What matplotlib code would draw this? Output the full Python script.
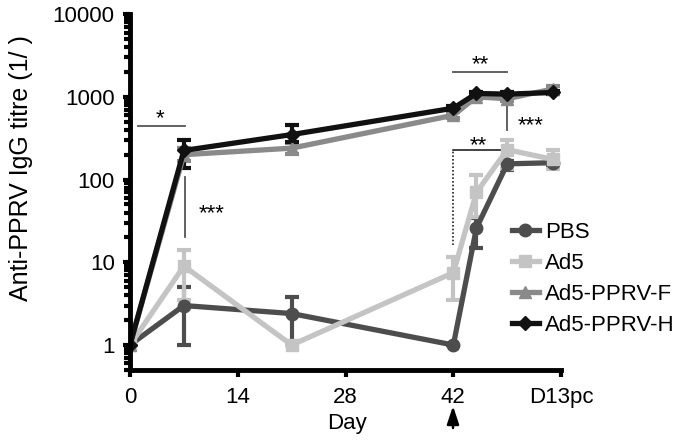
import matplotlib
matplotlib.use("Agg")
import matplotlib.pyplot as plt
from matplotlib.lines import Line2D
from matplotlib.ticker import LogLocator, NullFormatter

plt.rcParams["font.family"] = ["Liberation Sans", "DejaVu Sans"]

# data (titre values, log axis)
days = [0, 7, 21, 42, 45, 49, 55]
groups = ["PBS", "Ad5", "Ad5-PPRV-F", "Ad5-PPRV-H"]

pbs = [1, 3.0, 2.4, 1, 26, 155, 160]
pbs_lo = [1, 1, 1, 1, 15, 130, 148]
pbs_hi = [1, 5, 3.8, 1, 34, 168, 172]

ad5 = [1, 9, 1, 7.5, 70, 230, 175]
ad5_lo = [1, 3.5, 1, 3.5, 35, 135, 135]
ad5_hi = [1, 14, 1, 11.5, 113, 300, 225]

pprv_f = [1, 200, 240, 600, 1000, 950, 1250]
pprv_f_lo = [1, 170, 205, 560, 950, 900, 1150]
pprv_f_hi = [1, 240, 280, 650, 1060, 1000, 1350]

pprv_h = [1, 225, 350, 730, 1100, 1080, 1130]
pprv_h_lo = [1, 140, 285, 690, 1050, 1030, 1080]
pprv_h_hi = [1, 300, 455, 780, 1150, 1130, 1180]

xtick_pos = [0, 14, 28, 42, 56]
xtick_labels = ["0", "14", "28", "42", "D13pc"]

FS = 16

fig = plt.figure(figsize=(6.86, 4.43), dpi=100)
ax = fig.add_axes([0.1895, 0.165, 0.6285, 0.803])

series = [
    (pbs, pbs_lo, pbs_hi, "#4d4d4d", "o", 9),
    (ad5, ad5_lo, ad5_hi, "#c4c4c4", "s", 8),
    (pprv_f, pprv_f_lo, pprv_f_hi, "#8a8a8a", "^", 9),
    (pprv_h, pprv_h_lo, pprv_h_hi, "#111111", "D", 7),
]
handles = []
for (vals, lo, hi, col, mk, ms), name in zip(series, groups):
    yerr = [[v - l for v, l in zip(vals, lo)], [h - v for v, h in zip(vals, hi)]]
    ax.errorbar(days, vals, yerr=yerr, color=col, marker=mk, markersize=ms,
                linewidth=3.8, elinewidth=3, capsize=5, capthick=3)
    handles.append(Line2D([], [], color=col, marker=mk, markersize=ms,
                          linewidth=3.8, label=name))

ax.set_yscale("log")
ax.set_ylim(0.5, 10000)
ax.set_xlim(0, 56)
ax.set_yticks([1, 10, 100, 1000, 10000])
ax.set_yticklabels(["1", "10", "100", "1000", "10000"])
ax.yaxis.set_minor_locator(LogLocator(base=10, subs=range(2, 10)))
ax.yaxis.set_minor_formatter(NullFormatter())
ax.set_xticks(xtick_pos)
ax.set_xticklabels(xtick_labels)

for s in ["top", "right"]:
    ax.spines[s].set_visible(False)
for s in ["left", "bottom"]:
    ax.spines[s].set_linewidth(3.5)
ax.tick_params(axis="both", which="major", labelsize=FS, width=3, length=5,
               color="black")
ax.tick_params(axis="x", which="major", pad=7)
ax.tick_params(axis="y", which="major", pad=6)
ax.tick_params(axis="y", which="minor", width=3, length=4)

ax.set_xlabel("Day", fontsize=FS, va="top")
ax.xaxis.set_label_coords(0.503, -0.12)
ax.set_ylabel("Anti-PPRV IgG titre (1/ )", fontsize=18)
ax.yaxis.set_label_coords(-0.225, 0.567)

# significance marks
line_kw = dict(color="#555555", linewidth=1.3)
star_kw = dict(ha="center", va="baseline", fontsize=FS)
ax.plot([1.0, 7.2], [443, 443], **line_kw)
ax.text(3.9, 470, "*", **star_kw)
ax.plot([7.2, 7.2], [20, 107], **line_kw)
ax.text(10.6, 33, "***", **star_kw)
ax.plot([42, 49], [1990, 1990], **line_kw)
ax.text(45.5, 2100, "**", **star_kw)
ax.plot([49, 49], [397, 840], **line_kw)
ax.text(52.0, 385, "***", **star_kw)
ax.plot([42, 49], [228, 228], color="#222222", linewidth=1.2)
ax.plot([42, 42], [16, 228], color="#222222", linewidth=1.2,
        linestyle=(0, (1, 1.2)))
ax.text(45.2, 220, "**", **star_kw)

# challenge arrow under day 42
ax.annotate("", xy=(453 / 686, 1 - 406 / 443), xycoords="figure fraction",
            xytext=(453 / 686, 1 - 428 / 443), textcoords="figure fraction",
            arrowprops=dict(arrowstyle="-|>,head_length=0.6,head_width=0.2",
                            color="black", lw=1.8,
                            mutation_scale=18, shrinkA=0, shrinkB=0))

ax.legend(handles=handles, loc="upper left",
          bbox_to_anchor=(512 / 686, 1 - 222 / 443),
          bbox_transform=fig.transFigure, frameon=False, fontsize=FS,
          handlelength=1.2, handletextpad=0.3, labelspacing=0.45,
          borderpad=0, borderaxespad=0)

fig.savefig("out.png", dpi=100)
